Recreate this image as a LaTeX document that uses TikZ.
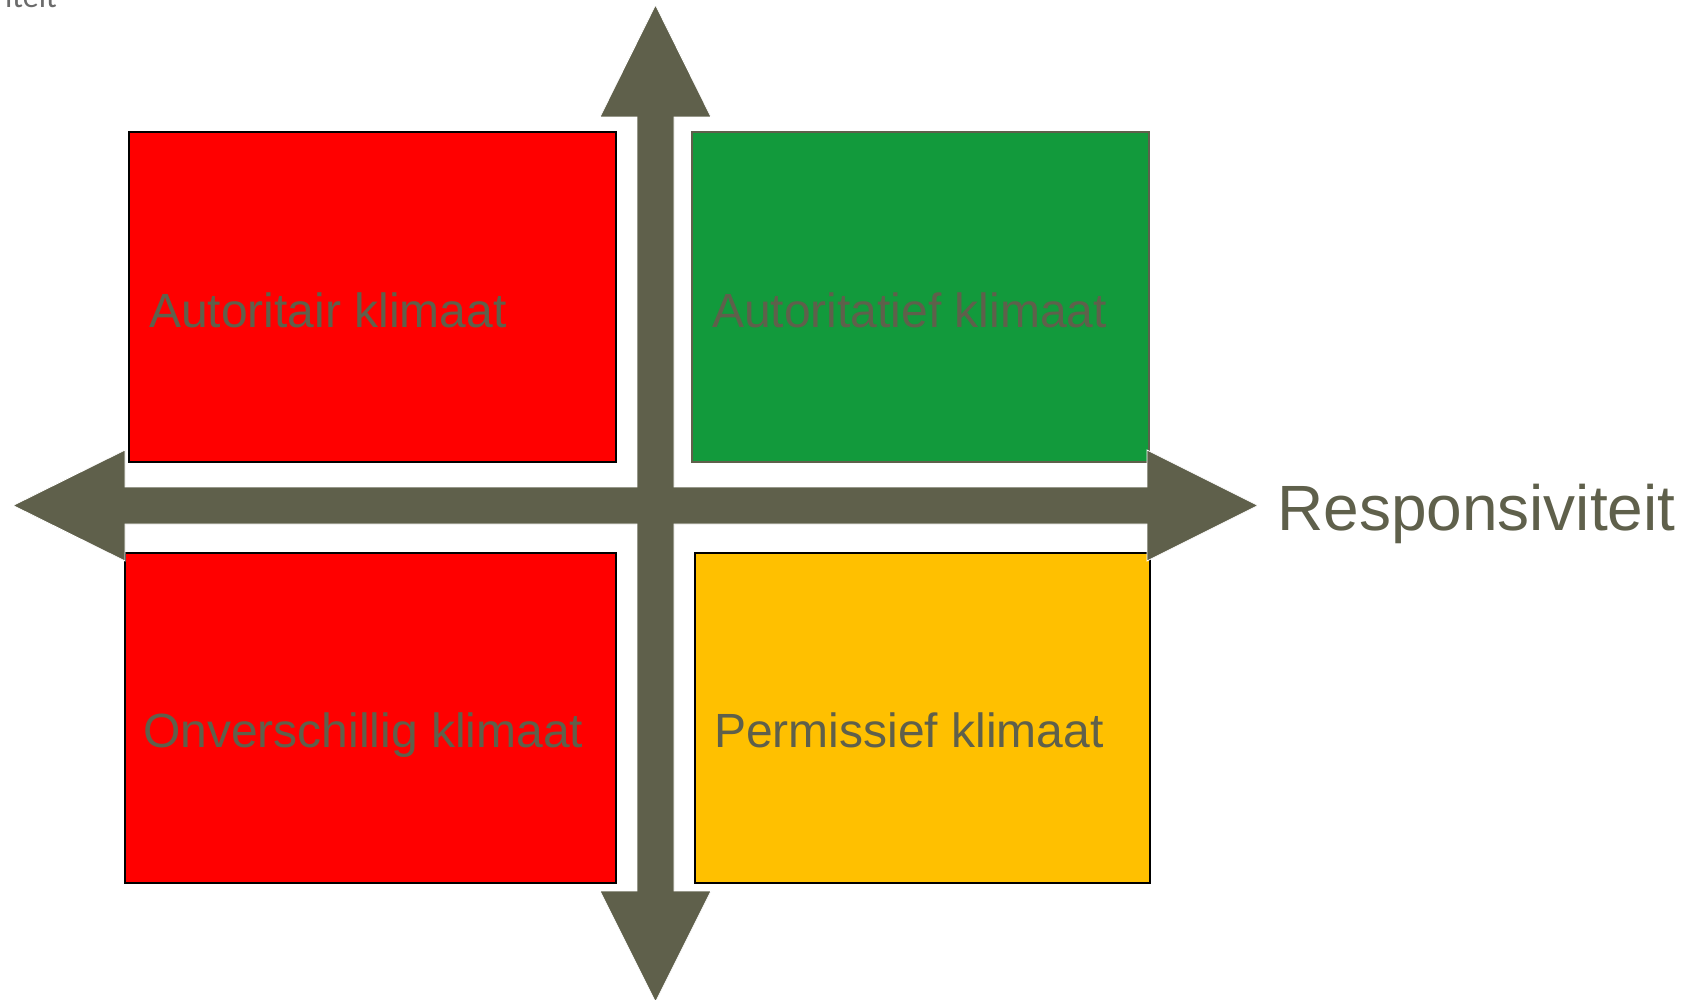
\documentclass[tikz,border=0pt]{standalone}
\usepackage{fontspec}
\setmainfont{Liberation Sans}
\newfontfamily\calfont{Carlito}
\definecolor{olive}{HTML}{5F604B}
\definecolor{qred}{HTML}{FF0000}
\definecolor{qgreen}{HTML}{129A3C}
\definecolor{qyellow}{HTML}{FFC000}
\definecolor{cutgray}{HTML}{6B6B6B}
\begin{document}
\begin{tikzpicture}[x=1pt,y=-1pt,
  quad/.style={anchor=north west,inner sep=0pt,outer sep=0pt,line width=1.8pt},
  qlabel/.style={anchor=base west,inner sep=0pt,text=olive,font=\fontsize{48}{58}\selectfont},
  axisfill/.style={fill=olive,draw=white,line width=0.8pt}]
\useasboundingbox (0,0) rectangle (1695,1000);
% quadrant boxes
\node[quad,draw=black,fill=qred,minimum width=487pt,minimum height=330pt] (tl) at (129,132) {};
\node[quad,draw=olive,fill=qgreen,minimum width=457pt,minimum height=330pt,line width=1.2pt] (tr) at (692,132) {};
\node[quad,draw=black,fill=qred,minimum width=491pt,minimum height=330pt] (bl) at (125,553) {};
\node[quad,draw=black,fill=qyellow,minimum width=455pt,minimum height=330pt,line width=1.4pt] (br) at (695,553) {};
% axes cross
\coordinate (c) at (655.5,505.5);
\path[axisfill] (13,505.5) -- (125,450) -- (125,487) -- (637,487) -- (637,117) -- (600,117)
  -- (655.5,5) -- (711,117) -- (674,117) -- (674,487) -- (1147,487) -- (1147,450)
  -- (1258,505.5) -- (1147,561) -- (1147,524) -- (674,524) -- (674,891) -- (711,891)
  -- (655.5,1002) -- (600,891) -- (637,891) -- (637,524) -- (125,524) -- (125,561) -- cycle;
% labels
\node[qlabel] (tlt) at (149,327) {Autoritair klimaat};
\node[qlabel] (trt) at (712,327) {Autoritatief klimaat};
\node[qlabel] (blt) at (143,747) {Onverschillig klimaat};
\node[qlabel] (brt) at (714,747) {Permissief klimaat};
\node[anchor=base west,inner sep=0pt,text=olive,font=\fontsize{64}{76}\selectfont] (resp) at (1277,530) {Responsiviteit};
\node[anchor=base east,inner sep=0pt,text=cutgray,font=\calfont\fontsize{32}{38}\selectfont] (cut) at (57,8) {iteit};
\end{tikzpicture}
\end{document}
